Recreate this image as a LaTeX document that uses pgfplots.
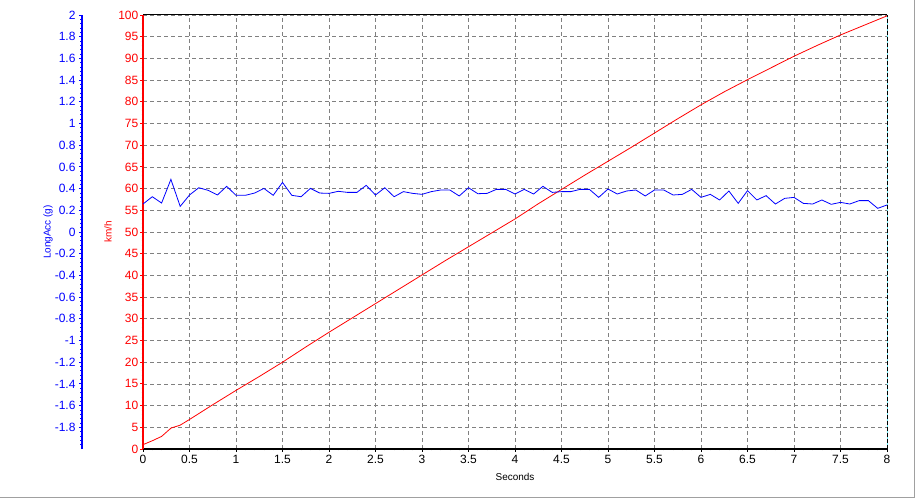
\documentclass[border=0pt]{standalone}
\usepackage{fontspec}
\setmainfont{Liberation Sans}
\usepackage{pgfplots}
\usepackage{pgfplotstable}
\pgfplotsset{compat=1.18}

\definecolor{gridgray}{RGB}{128,128,128}
\definecolor{cursor}{RGB}{110,235,245}
\definecolor{winborder}{RGB}{160,160,160}

% speed, km/h
\pgfplotstableread{
t v
0    1.0
0.1  1.9
0.2  2.9
0.3  4.8
0.4  5.5
0.5  6.8
0.75 10.2
1    13.5
1.25 16.7
1.5  20.0
1.75 23.5
2    26.9
2.25 30.2
2.5  33.5
2.75 36.8
3    40.1
3.25 43.4
3.5  46.6
3.75 49.8
4    53.0
4.25 56.5
4.5  59.8
4.75 63.1
5    66.3
5.25 69.5
5.5  72.8
5.75 76.1
6    79.3
6.25 82.3
6.5  85.1
6.75 87.8
7    90.5
7.25 93.0
7.5  95.4
7.75 97.6
8    99.8
}\speed

% longitudinal acceleration, g
\pgfplotstableread{
t a
0.0 0.258
0.1 0.325
0.2 0.267
0.3 0.485
0.4 0.236
0.5 0.341
0.6 0.408
0.7 0.384
0.8 0.341
0.9 0.421
1.0 0.338
1.1 0.338
1.2 0.359
1.3 0.402
1.4 0.338
1.5 0.457
1.6 0.338
1.7 0.325
1.8 0.402
1.9 0.359
2.0 0.356
2.1 0.375
2.2 0.365
2.3 0.365
2.4 0.430
2.5 0.341
2.6 0.408
2.7 0.325
2.8 0.372
2.9 0.356
3.0 0.347
3.1 0.372
3.2 0.387
3.3 0.387
3.4 0.332
3.5 0.408
3.6 0.353
3.7 0.356
3.8 0.393
3.9 0.393
4.0 0.350
4.1 0.393
4.2 0.350
4.3 0.421
4.4 0.365
4.5 0.372
4.6 0.372
4.7 0.393
4.8 0.393
4.9 0.319
5.0 0.396
5.1 0.350
5.2 0.378
5.3 0.387
5.4 0.332
5.5 0.387
5.6 0.387
5.7 0.341
5.8 0.347
5.9 0.393
6.0 0.319
6.1 0.347
6.2 0.295
6.3 0.378
6.4 0.264
6.5 0.381
6.6 0.295
6.7 0.335
6.8 0.258
6.9 0.310
7.0 0.319
7.1 0.264
7.2 0.258
7.3 0.295
7.4 0.255
7.5 0.273
7.6 0.258
7.7 0.289
7.8 0.289
7.9 0.218
8.0 0.249
}\longacc

\pgfplotsset{
  every axis/.append style={
    scale only axis, height=434bp,
    /pgf/number format/assume math mode=true,
    tick label style={font=\fontsize{12bp}{14bp}\selectfont},
    label style={font=\fontsize{11.5bp}{14bp}\selectfont},
    tick align=outside,
    major tick length=3bp, minor tick length=1.5bp,
  },
}

\begin{document}
\begin{tikzpicture}
% main axis: seconds vs km/h
\begin{axis}[
  at={(0,0)}, anchor=south west,
  width=744bp,
  xmin=0, xmax=8, ymin=0, ymax=100,
  xtick distance=0.5, ytick distance=5,
  minor x tick num=4, minor y tick num=4,
  xtick pos=bottom, ytick pos=left,
  grid=major,
  major grid style={gridgray, dash pattern=on 4bp off 3bp, line width=0.75bp},
  axis line style={draw=none},
  x tick style={black, line width=0.8bp},
  y tick style={red, line width=0.8bp},
  yticklabel style={red, inner xsep=1.5bp},
  xlabel={Seconds}, ylabel={km/h},
  every axis x label/.style={at={(rel axis cs:0.5,0)}, yshift=-28bp, anchor=center},
  every axis y label/.style={at={(rel axis cs:0,0.5)}, xshift=-35bp, rotate=90, anchor=center, red},
  clip=false,
]
\addplot[red, line width=0.8bp] table[x=t, y=v] {\speed};
\draw[black, line width=1bp] (rel axis cs:0,1) -- (rel axis cs:1,1);
\draw[cursor, line width=1.2bp] ([xshift=0.6bp]rel axis cs:1,0) -- ([xshift=0.6bp]rel axis cs:1,1);
\draw[black, line width=1bp, dash pattern=on 4bp off 2bp] (rel axis cs:1,0) -- (rel axis cs:1,1);
\draw[black, line width=2bp] (rel axis cs:0,0) -- (rel axis cs:1,0);
\draw[red, line width=2bp] (rel axis cs:0,0) -- (rel axis cs:0,1);
\end{axis}

% second axis: LongAcc (g), its scale sits 61bp left of the plot
\begin{axis}[
  at={(-61bp,0)}, anchor=south west,
  width=805bp,
  xmin=-0.655914, xmax=8, ymin=-2, ymax=2,
  axis x line=none, axis y line*=left,
  axis line style={blue, line width=2bp},
  ytick={-1.8,-1.6,-1.4,-1.2,-1,-0.8,-0.6,-0.4,-0.2,0,0.2,0.4,0.6,0.8,1,1.2,1.4,1.6,1.8,2},
  minor ytick={-1.96,-1.92,...,1.97},
  y tick style={blue, line width=0.8bp},
  yticklabel style={blue},
  ylabel={LongAcc (g)},
  every axis y label/.style={at={(rel axis cs:0,0.5)}, xshift=-34bp, rotate=90, anchor=center, blue},
]
\addplot[blue, line width=0.8bp] table[x=t, y=a] {\longacc};
\end{axis}

\draw[winborder, line width=1bp] (-143bp,-48.5bp) -- (771.5bp,-48.5bp) -- (771.5bp,449bp);
\pgfresetboundingbox
\useasboundingbox (-143bp,-50bp) rectangle (772bp,449bp);
\end{tikzpicture}
\end{document}
